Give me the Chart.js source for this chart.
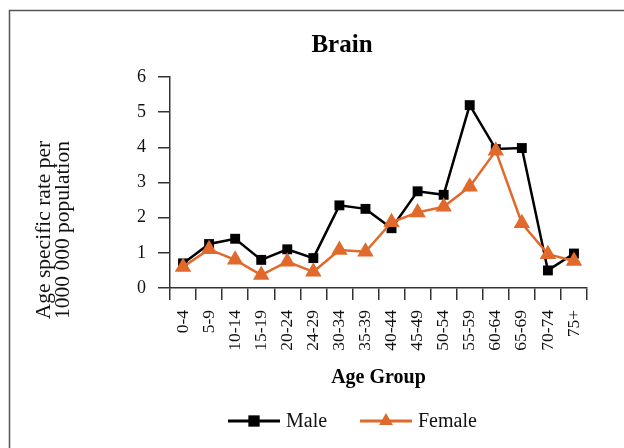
<!DOCTYPE html>
<html>
<head>
<meta charset="utf-8">
<title>Brain</title>
<script src="https://cdn.jsdelivr.net/npm/chart.js@4.4.1/dist/chart.umd.min.js"></script>
<style>
  html, body { margin: 0; padding: 0; background: #fff; }
  #wrap { width: 624px; height: 448px; }
</style>
</head>
<body>
<div id="wrap"><canvas id="chart" width="624" height="448"></canvas></div>
<script>
// ---- data ----
const ageGroups = ['0-4', '5-9', '10-14', '15-19', '20-24', '24-29', '30-34', '35-39',
  '40-44', '45-49', '50-54', '55-59', '60-64', '65-69', '70-74', '75+'];
const maleRates = [0.7, 1.25, 1.4, 0.8, 1.1, 0.85, 2.35, 2.25, 1.7, 2.75, 2.65, 5.2, 3.95, 3.98, 0.5, 0.98];
const femaleRates = [0.6, 1.1, 0.8, 0.37, 0.75, 0.46, 1.08, 1.03, 1.87, 2.15, 2.31, 2.88, 3.9, 1.84, 0.96, 0.77];
const yTicks = [0, 1, 2, 3, 4, 5, 6];
const yTitleLines = ['Age specific rate per', '1000 000 population'];

const SERIF = '"Liberation Serif", "Times New Roman", serif';
const ORANGE = '#E0692B';
const AXIS = '#333';

// frame, rotated two-line y title and a line+marker legend
const decor = {
  id: 'decor',
  beforeDraw(chart) {
    const ctx = chart.ctx;
    ctx.save();
    ctx.fillStyle = '#fff';
    ctx.fillRect(0, 0, chart.width, chart.height);
    ctx.strokeStyle = '#555';
    ctx.lineWidth = 1.5;
    ctx.strokeRect(9.5, 10.5, 700, 500);
    ctx.restore();
  },
  afterDraw(chart) {
    const ctx = chart.ctx;
    ctx.save();
    ctx.fillStyle = '#111';
    ctx.font = '21.5px ' + SERIF;
    ctx.textAlign = 'center';
    ctx.textBaseline = 'middle';
    ctx.translate(44, 230);
    ctx.rotate(-Math.PI / 2);
    yTitleLines.forEach((t, i) => ctx.fillText(t, 0, i * 19));
    ctx.restore();

    // legend
    const items = [{ x: 228, ds: chart.data.datasets[0], r: 8 }, { x: 360, ds: chart.data.datasets[1], r: 8 }];
    const y = 421;
    items.forEach((it) => {
      ctx.save();
      ctx.strokeStyle = it.ds.borderColor;
      ctx.fillStyle = it.ds.borderColor;
      ctx.lineWidth = 3;
      ctx.beginPath();
      ctx.moveTo(it.x, y);
      ctx.lineTo(it.x + 52, y);
      ctx.stroke();
      Chart.helpers.drawPoint(ctx, { pointStyle: it.ds.pointStyle, radius: it.r, rotation: 0, borderWidth: 0 }, it.x + 26, y);
      ctx.fillStyle = '#111';
      ctx.font = '20px ' + SERIF;
      ctx.textBaseline = 'middle';
      ctx.textAlign = 'left';
      ctx.fillText(it.ds.label, it.x + 58, y + 1);
      ctx.restore();
    });
  }
};

new Chart(document.getElementById('chart'), {
  type: 'line',
  data: {
    labels: ageGroups,
    datasets: [
      {
        label: 'Male',
        data: maleRates,
        borderColor: '#000',
        backgroundColor: '#000',
        borderWidth: 2.5,
        pointStyle: 'rect',
        pointRadius: 7,
        pointBorderWidth: 0,
        tension: 0,
        order: 1,
      },
      {
        label: 'Female',
        data: femaleRates,
        borderColor: ORANGE,
        backgroundColor: ORANGE,
        borderWidth: 2.5,
        pointStyle: 'triangle',
        pointRadius: 9.5,
        pointBorderWidth: 0,
        tension: 0,
        order: 0,
      },
    ],
  },
  options: {
    responsive: false,
    animation: false,
    layout: { padding: { left: 97, right: 37, top: 0, bottom: 50 } },
    plugins: {
      legend: { display: false },
      tooltip: { enabled: false },
      title: {
        display: true,
        text: 'Brain',
        color: '#000',
        font: { family: SERIF, size: 25, weight: 'bold', lineHeight: 1.2 },
        padding: { top: 31, bottom: 16 },
      },
    },
    scales: {
      x: {
        offset: true,
        afterFit(s) { s.height = 110; },
        border: { color: AXIS, width: 1.5 },
        grid: { offset: true, drawOnChartArea: false, tickLength: 12, color: AXIS, lineWidth: 1.5 },
        ticks: {
          autoSkip: false, maxRotation: 90, minRotation: 90, padding: 10,
          color: '#111', font: { family: SERIF, size: 17.5 },
        },
        title: {
          display: true, text: 'Age Group', color: '#000',
          font: { family: SERIF, size: 20, weight: 'bold', lineHeight: 1.2 },
          padding: { top: 0, bottom: 8 },
        },
      },
      y: {
        min: 0,
        max: 6,
        afterFit(s) { s.width = 73; },
        afterBuildTicks(s) { s.ticks = yTicks.map((v) => ({ value: v })); },
        border: { color: AXIS, width: 1.5 },
        grid: { drawOnChartArea: false, tickLength: 12, color: AXIS, lineWidth: 1.5 },
        ticks: { padding: 12, color: '#111', font: { family: SERIF, size: 18 } },
      },
    },
  },
  plugins: [decor],
});
</script>
</body>
</html>
